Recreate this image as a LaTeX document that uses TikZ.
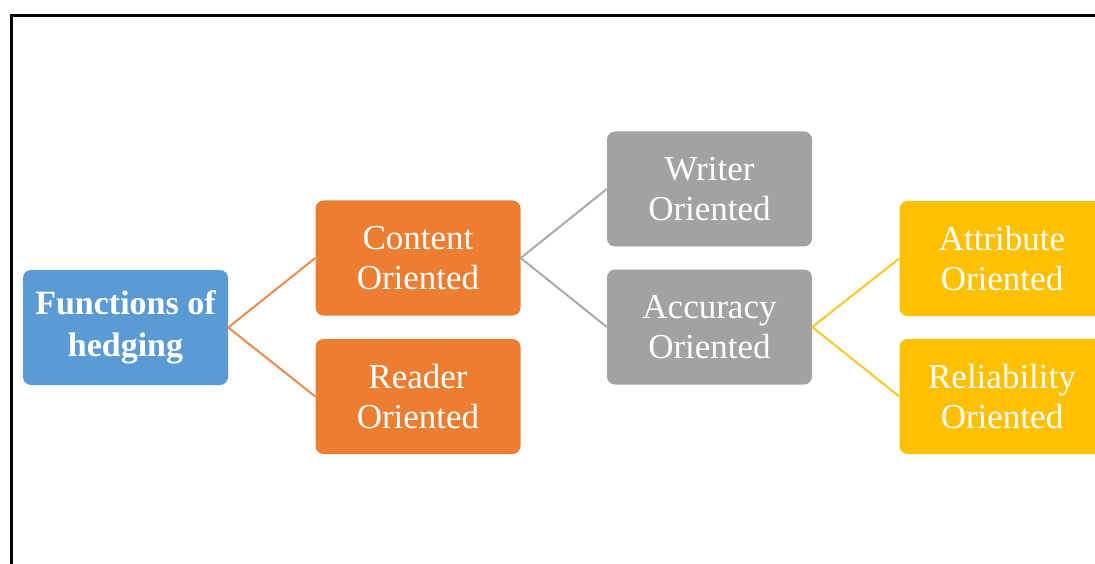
\documentclass[tikz,border=0pt]{standalone}
\usepackage{fontspec}
\setmainfont{Liberation Serif}
\definecolor{cblue}{RGB}{91,155,213}
\definecolor{corange}{RGB}{237,125,49}
\definecolor{cgray}{RGB}{162,162,162}
\definecolor{cyellow}{RGB}{255,192,0}
\definecolor{lorange}{RGB}{236,140,75}
\definecolor{lgray}{RGB}{170,170,170}
\definecolor{lyellow}{RGB}{250,200,40}
\tikzset{
  box/.style={rounded corners=8pt, minimum width=205pt, minimum height=115pt,
    inner sep=0pt, align=center, text=white,
    font=\fontsize{35}{40}\selectfont},
  link/.style={line width=2pt},
}
\begin{document}
\begin{tikzpicture}[x=1pt,y=-1pt]
\useasboundingbox (0,0) rectangle (1095,564);
\clip (0,0) rectangle (1095,564);
\fill[white] (0,0) rectangle (1095,564);
\draw[line width=2.8pt, black] (11.5,570) -- (11.5,15.5) -- (1100,15.5);
\node[box, fill=cblue, font=\fontsize{34}{42}\selectfont\bfseries] (fh) at (125.5,327.5) {Functions of\\hedging};
\node[box, fill=corange] (co) at (418,258) {Content\\Oriented};
\node[box, fill=corange] (ro) at (418,396.5) {Reader\\Oriented};
\node[box, fill=cgray] (wo) at (709.5,189) {Writer\\Oriented};
\node[box, fill=cgray] (ao) at (709.5,327) {Accuracy\\Oriented};
\node[box, fill=cyellow] (at) at (1002,258.5) {Attribute\\Oriented};
\node[box, fill=cyellow] (re) at (1002,396.5) {Reliability\\Oriented};
\draw[link, lorange] (co.west) -- (fh.east) -- (ro.west);
\draw[link, lgray] (wo.west) -- (co.east) -- (ao.west);
\draw[link, lyellow] (at.west) -- (ao.east) -- (re.west);
\end{tikzpicture}
\end{document}
